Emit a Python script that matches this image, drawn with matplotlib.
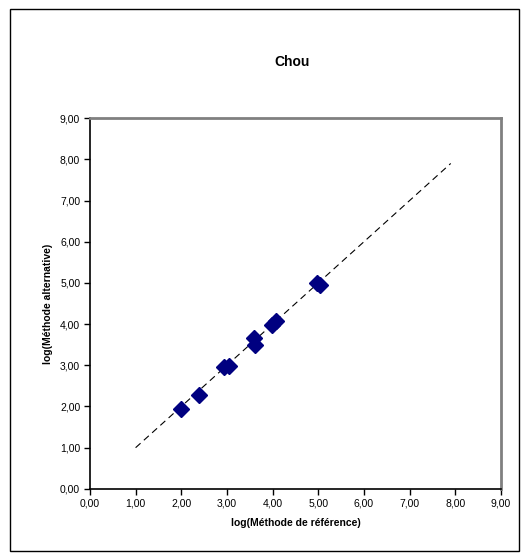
import matplotlib
matplotlib.use("Agg")
import matplotlib.pyplot as plt
from matplotlib.patches import Rectangle
from matplotlib.ticker import FuncFormatter, MultipleLocator

plt.rcParams['font.family'] = ['Liberation Sans', 'DejaVu Sans']

# data
ref_log = [2.00, 2.39, 2.93, 3.05, 3.59, 3.61, 3.98, 4.08, 4.98, 5.03]
alt_log = [1.94, 2.27, 2.95, 2.99, 3.67, 3.50, 3.98, 4.07, 5.00, 4.95]
line_x = [1.0, 7.9]
line_y = [1.0, 7.9]

title = "Chou"
xlabel = "log(Méthode de référence)"
ylabel = "log(Méthode alternative)"

fig = plt.figure(figsize=(5.29, 5.60), dpi=100)
ax = fig.add_axes([0.170, 0.127, 0.777, 0.662])

ax.plot(line_x, line_y, color='black', linestyle=(0, (6, 4)), linewidth=0.8)
ax.plot(ref_log, alt_log, linestyle='none', marker='D', markersize=8,
        color='#000080', markeredgecolor='#000080')

ax.set_xlim(0, 9)
ax.set_ylim(0, 9)
ax.xaxis.set_major_locator(MultipleLocator(1))
ax.yaxis.set_major_locator(MultipleLocator(1))
fmt = FuncFormatter(lambda v, p: f"{v:.2f}".replace('.', ','))
ax.xaxis.set_major_formatter(fmt)
ax.yaxis.set_major_formatter(fmt)
ax.tick_params(axis='both', labelsize=7.5, length=4, width=1, direction='out', pad=3)

for side in ['top', 'right']:
    ax.spines[side].set_color('#808080')
    ax.spines[side].set_linewidth(2)
for side in ['left', 'bottom']:
    ax.spines[side].set_color('black')
    ax.spines[side].set_linewidth(1.2)

ax.set_xlabel(xlabel, fontsize=7.5, fontweight='bold', labelpad=7)
ax.set_ylabel(ylabel, fontsize=7.5, fontweight='bold', labelpad=5)
fig.text(0.552, 0.889, title, ha='center', va='center', fontsize=10, fontweight='bold')

fig.patches.append(Rectangle((10 / 529, 9 / 560), 509 / 529, 542 / 560,
                             transform=fig.transFigure, fill=False,
                             edgecolor='black', linewidth=1))

fig.savefig("out.png", dpi=100)
